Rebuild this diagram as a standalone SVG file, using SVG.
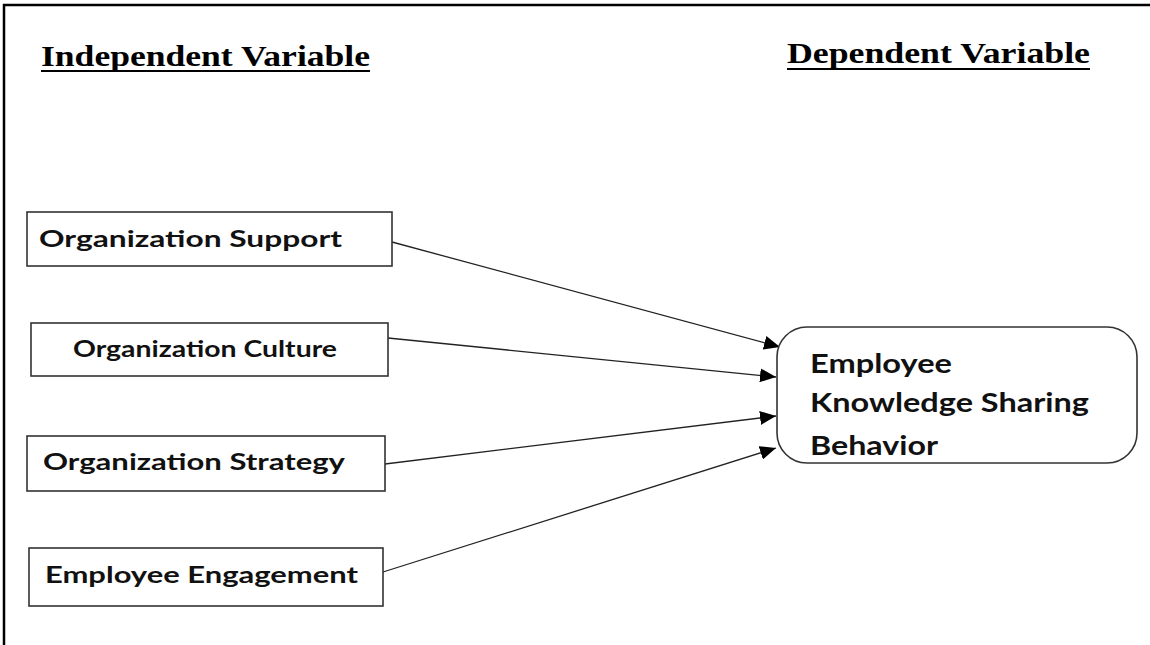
<svg xmlns="http://www.w3.org/2000/svg" width="1150" height="645" viewBox="0 0 1150 645">
<defs>
<style>
.hdr{font-family:"Liberation Serif","Times New Roman",serif;font-weight:bold;font-size:30px;fill:#000}
.lbl{font-family:Lato,"Open Sans",sans-serif;font-weight:bold;font-size:23px;fill:#111}
.big{font-family:Lato,"Open Sans",sans-serif;font-weight:bold;font-size:26px;fill:#111}
.box{fill:#fff;stroke:#333;stroke-width:1.6}
.conn{stroke:#222;stroke-width:1.3;fill:none;marker-end:url(#arr)}
</style>
<marker id="arr" viewBox="0 0 16 14" refX="16" refY="7" markerWidth="16" markerHeight="14" markerUnits="userSpaceOnUse" orient="auto">
<path d="M0,0 L16,7 L0,14 Z" fill="#000"/>
</marker>
</defs>
<rect width="1150" height="645" fill="#fff"/>
<g id="frame">
<line x1="3" y1="5" x2="1150" y2="5" stroke="#000" stroke-width="2.5"/>
<line x1="4" y1="4" x2="4" y2="645" stroke="#000" stroke-width="2.5"/>
</g>
<g id="header-independent">
<text class="hdr" x="41" y="66" textLength="329" lengthAdjust="spacingAndGlyphs">Independent Variable</text>
<line x1="41" y1="71" x2="370" y2="71" stroke="#000" stroke-width="2"/>
</g>
<g id="header-dependent">
<text class="hdr" x="787" y="63" textLength="303" lengthAdjust="spacingAndGlyphs">Dependent Variable</text>
<line x1="787" y1="69" x2="1090" y2="69" stroke="#000" stroke-width="2"/>
</g>
<g id="connectors">
<line class="conn" x1="392" y1="242" x2="780" y2="347"/>
<line class="conn" x1="388" y1="338" x2="776" y2="377"/>
<line class="conn" x1="385" y1="464" x2="776" y2="416"/>
<line class="conn" x1="383" y1="572" x2="776" y2="448"/>
</g>
<g id="n-support">
<rect class="box" x="27" y="212" width="365" height="54"/>
<text class="lbl" x="39" y="247" textLength="303" lengthAdjust="spacingAndGlyphs">Organization Support</text>
</g>
<g id="n-culture">
<rect class="box" x="31" y="323" width="357" height="53"/>
<text class="lbl" x="73" y="357" textLength="264" lengthAdjust="spacingAndGlyphs">Organization Culture</text>
</g>
<g id="n-strategy">
<rect class="box" x="27" y="436" width="358" height="55"/>
<text class="lbl" x="43" y="470" textLength="302" lengthAdjust="spacingAndGlyphs">Organization Strategy</text>
</g>
<g id="n-engagement">
<rect class="box" x="29" y="548" width="354" height="58"/>
<text class="lbl" x="45" y="583" textLength="313" lengthAdjust="spacingAndGlyphs">Employee Engagement</text>
</g>
<g id="n-behavior">
<rect class="box" x="777" y="327" width="360" height="136" rx="30" ry="30"/>
<text class="big" x="810" y="373" textLength="142" lengthAdjust="spacingAndGlyphs">Employee</text>
<text class="big" x="810" y="412" textLength="279" lengthAdjust="spacingAndGlyphs">Knowledge Sharing</text>
<text class="big" x="810" y="455" textLength="128" lengthAdjust="spacingAndGlyphs">Behavior</text>
</g>
</svg>
